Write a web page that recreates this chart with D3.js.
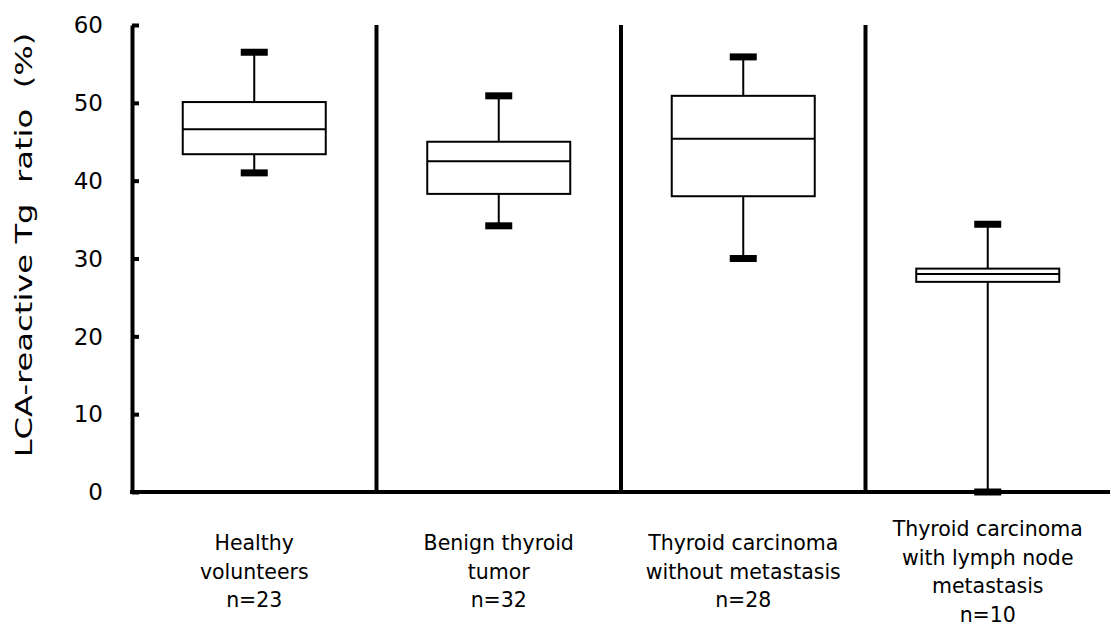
<!DOCTYPE html>
<html>
<head>
<meta charset="utf-8">
<script src="https://cdn.jsdelivr.net/npm/d3@7"></script>
<style>
  body { margin: 0; background: #fff; }
  text { font-family: "DejaVu Sans", "Liberation Sans", sans-serif; fill: #000; }
</style>
</head>
<body>
<svg id="chart" width="1112" height="628"></svg>
<script>
'use strict';

// Group labels (one array per line) and box statistics.
var groups = [
    ['Healthy', 'volunteers', 'n=23'],
    ['Benign thyroid', 'tumor', 'n=32'],
    ['Thyroid carcinoma', 'without metastasis', 'n=28'],
    ['Thyroid carcinoma', 'with lymph node', 'metastasis', 'n=10']
];
var whiskerLow = [41.0, 34.2, 30.0, 0.0];
var boxLow     = [43.4, 38.3, 38.0, 27.0];
var medians    = [46.6, 42.5, 45.4, 28.0];
var boxHigh    = [50.1, 45.0, 50.9, 28.7];
var whiskerHigh = [56.5, 50.9, 55.9, 34.4];
var yTicks = [0, 10, 20, 30, 40, 50, 60];

var svg = d3.select('#chart');
var margin = {left: 132, right: 2, top: 25, bottom: 136};
var width = 1112 - margin.left - margin.right;
var height = 628 - margin.top - margin.bottom;

var x = d3.scaleBand()
    .domain(d3.range(groups.length))
    .range([margin.left, margin.left + width]);

var y = d3.scaleLinear()
    .domain([0, 60])
    .range([margin.top + height, margin.top]);

var boxWidth = 143;
var capWidth = 27;

// Separators between groups.
svg.append('g')
    .selectAll('line')
    .data(d3.range(1, groups.length))
    .enter()
    .append('line')
        .attr('x1', function(d) {return x(d);})
        .attr('x2', function(d) {return x(d);})
        .attr('y1', y(60))
        .attr('y2', y(0))
        .attr('stroke', '#000')
        .attr('stroke-width', 4);

// Y axis: ticks pointing into the plot.
var yAxis = svg.append('g')
    .attr('transform', 'translate(' + margin.left + ',0)')
    .call(d3.axisRight(y).tickValues(yTicks).tickSize(7).tickSizeOuter(0).tickFormat(''));
yAxis.select('.domain').attr('stroke-width', 4);
yAxis.selectAll('.tick line').attr('stroke-width', 4);

svg.append('g')
    .selectAll('text')
    .data(yTicks)
    .enter()
    .append('text')
        .attr('x', 103)
        .attr('y', function(d) {return y(d);})
        .attr('dy', '0.36em')
        .attr('text-anchor', 'end')
        .style('font-size', '23px')
        .text(function(d) {return d;});

// X axis line.
svg.append('line')
    .attr('x1', margin.left - 2)
    .attr('x2', margin.left + width)
    .attr('y1', y(0))
    .attr('y2', y(0))
    .attr('stroke', '#000')
    .attr('stroke-width', 4);

// Boxes.
var boxes = svg.append('g')
    .selectAll('g')
    .data(d3.range(groups.length))
    .enter()
    .append('g')
        .attr('transform', function(i) {
            return 'translate(' + (x(i) + x.bandwidth() / 2) + ',0)';
        });

boxes.append('line')
    .attr('y1', function(i) {return y(whiskerHigh[i]);})
    .attr('y2', function(i) {return y(whiskerLow[i]);})
    .attr('stroke', '#000')
    .attr('stroke-width', 2);

boxes.append('rect')
    .attr('x', -boxWidth / 2)
    .attr('width', boxWidth)
    .attr('y', function(i) {return y(boxHigh[i]);})
    .attr('height', function(i) {return y(boxLow[i]) - y(boxHigh[i]);})
    .attr('fill', '#fff')
    .attr('stroke', '#000')
    .attr('stroke-width', 2);

boxes.append('line')
    .attr('x1', -boxWidth / 2)
    .attr('x2', boxWidth / 2)
    .attr('y1', function(i) {return y(medians[i]);})
    .attr('y2', function(i) {return y(medians[i]);})
    .attr('stroke', '#000')
    .attr('stroke-width', 2);

// Whisker caps drawn as thick bars.
[whiskerHigh, whiskerLow].forEach(function(values) {
    boxes.append('rect')
        .attr('x', -capWidth / 2)
        .attr('width', capWidth)
        .attr('y', function(i) {return y(values[i]) - 3.5;})
        .attr('height', 7)
        .attr('fill', '#000');
});

// Category labels.
var labels = svg.append('g')
    .selectAll('text')
    .data(groups)
    .enter()
    .append('text')
        .attr('text-anchor', 'middle')
        .style('font-size', '20.5px')
        .attr('transform', function(d, i) {
            var top = d.length > 3 ? 536 : 550;
            return 'translate(' + (x(i) + x.bandwidth() / 2) + ',' + top + ')';
        });

labels.selectAll('tspan')
    .data(function(d) {return d;})
    .enter()
    .append('tspan')
        .attr('x', 0)
        .attr('y', function(d, j) {return j * 28.5;})
        .text(function(d) {return d;});

// Y axis title, stretched along its baseline like the original.
svg.append('text')
    .attr('transform', 'translate(32,245) rotate(-90) scale(1.4,1)')
    .attr('text-anchor', 'middle')
    .style('font-size', '23px')
    .style('white-space', 'pre')
    .text('LCA-reactive Tg  ratio  (%)');
</script>
</body>
</html>
